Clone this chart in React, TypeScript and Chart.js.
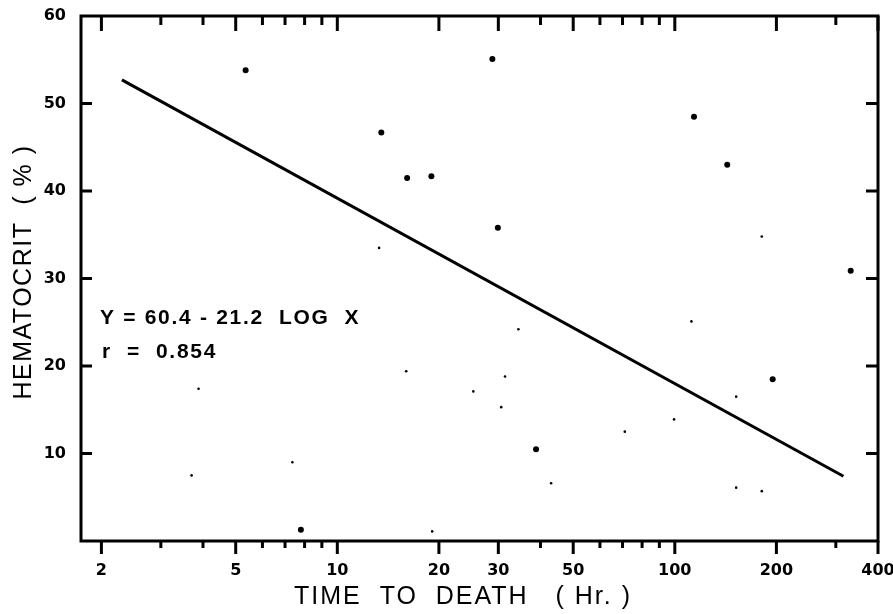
import React, { useEffect, useRef } from 'react';
import { Chart, registerables } from 'chart.js';

Chart.register(...registerables);

// ---- data ----
const xTickValues = [2, 3, 4, 5, 6, 7, 8, 9, 10, 20, 30, 40, 50, 60, 70, 80, 90, 100, 200, 300, 400];
const xTickLabels = [2, 5, 10, 20, 30, 50, 100, 200, 400];
const xLongTicks = [2, 5, 10, 20, 30, 50, 100, 200, 400];
const yTickValues = [10, 20, 30, 40, 50, 60];
const yMarkValues = [10, 20, 30, 40, 50];

// regression line Y = 60.4 - 21.2 log X (end points)
const lineX = [2.3, 316];
const lineY = [52.7, 7.4];

// clearly visible data dots
const dotX = [5.35, 13.5, 16.1, 19.0, 28.8, 114, 143, 29.9, 332, 7.8, 38.8, 195];
const dotY = [53.8, 46.7, 41.5, 41.7, 55.1, 48.5, 43.0, 35.8, 30.9, 1.3, 10.5, 18.5];

// faint specks
const speckX = [16.0, 3.88, 3.7, 7.36, 19.1, 31.4, 71.1, 34.4, 25.3, 30.6, 112, 152, 181, 43, 99.5, 152, 181, 13.3];
const speckY = [19.4, 17.4, 7.5, 9.0, 1.1, 18.8, 12.5, 24.2, 17.1, 15.3, 25.1, 6.1, 5.7, 6.6, 13.9, 16.5, 34.8, 33.5];

const equationText = 'Y = 60.4 - 21.2  LOG  X';
const rText = 'r  =  0.854';
const xTitle = 'TIME  TO  DEATH   ( Hr. )';
const yTitle = 'HEMATOCRIT  ( % )';

const FONT = '"Liberation Sans", Arial, sans-serif';
const TICK_FONT = '"DejaVu Sans", sans-serif';

const decorPlugin = {
  id: 'decor',
  afterDraw(chart: any) {
    const { ctx, chartArea } = chart;
    const { left, right, top, bottom } = chartArea;
    const xs = chart.scales.x;
    const ys = chart.scales.y;
    ctx.save();
    ctx.strokeStyle = '#000';
    ctx.lineWidth = 3;
    ctx.lineCap = 'butt';
    ctx.strokeRect(left, top, right - left, bottom - top);

    ctx.lineWidth = 3;
    ctx.beginPath();
    for (const v of xTickValues) {
      const px = xs.getPixelForValue(v);
      const long = xLongTicks.includes(v);
      ctx.moveTo(px, top);
      ctx.lineTo(px, top + (long ? 15 : 9));
      ctx.moveTo(px, bottom);
      ctx.lineTo(px, bottom + (long ? 13 : 7));
    }
    for (const v of yMarkValues) {
      const py = ys.getPixelForValue(v);
      ctx.moveTo(left, py);
      ctx.lineTo(left + 11, py);
      ctx.moveTo(right, py);
      ctx.lineTo(right - 12, py);
    }
    ctx.stroke();

    // annotation
    ctx.fillStyle = '#000';
    ctx.textBaseline = 'middle';
    ctx.textAlign = 'left';
    ctx.font = `bold 21px ${FONT}`;
    (ctx as any).letterSpacing = '1.7px';
    ctx.fillText(equationText, 100, 318);
    ctx.fillText(rText, 102, 352);

    // axis titles
    ctx.font = `25px ${FONT}`;
    (ctx as any).letterSpacing = '2px';
    ctx.textAlign = 'center';
    ctx.fillText(xTitle, 463, 597);

    (ctx as any).letterSpacing = '1.5px';
    ctx.save();
    ctx.translate(24, 272);
    ctx.rotate(-Math.PI / 2);
    ctx.fillText(yTitle, 0, 0);
    ctx.restore();

    ctx.restore();
  },
};

export default function App() {
  const ref = useRef<HTMLCanvasElement>(null);
  useEffect(() => {
    const tickFont = { family: TICK_FONT, size: 16, weight: 'bold' as const };
    const chart = new Chart(ref.current as HTMLCanvasElement, {
      type: 'scatter',
      data: {
        datasets: [
          {
            label: 'fit',
            data: lineX.map((x, i) => ({ x, y: lineY[i] })),
            showLine: true,
            borderColor: '#000',
            borderWidth: 3,
            pointRadius: 0,
          },
          {
            label: 'dots',
            data: dotX.map((x, i) => ({ x, y: dotY[i] })),
            pointRadius: 3,
            backgroundColor: '#000',
            borderWidth: 0,
          },
          {
            label: 'specks',
            data: speckX.map((x, i) => ({ x, y: speckY[i] })),
            pointRadius: 1.3,
            backgroundColor: '#000',
            borderWidth: 0,
          },
        ],
      },
      options: {
        animation: false,
        responsive: false,
        devicePixelRatio: 1,
        layout: { padding: { top: 16, right: 15, left: 0, bottom: 0 } },
        plugins: { legend: { display: false }, tooltip: { enabled: false } },
        scales: {
          x: {
            type: 'logarithmic',
            min: 1.74,
            max: 400,
            afterBuildTicks: (s: any) => {
              s.ticks = xTickValues.map((v) => ({ value: v }));
            },
            afterFit: (s: any) => {
              s.height = 73;
              s.paddingLeft = 0;
              s.paddingRight = 0;
              s.paddingTop = 0;
              s.paddingBottom = 0;
            },
            ticks: {
              autoSkip: false,
              maxRotation: 0,
              minRotation: 0,
              padding: 12,
              color: '#000',
              font: tickFont,
              callback: (v: any) => (xTickLabels.includes(Number(v)) ? String(v) : ''),
            },
            grid: { display: false },
            border: { display: false },
          },
          y: {
            type: 'linear',
            min: 0,
            max: 60,
            afterBuildTicks: (s: any) => {
              s.ticks = yTickValues.map((v) => ({ value: v }));
            },
            afterFit: (s: any) => {
              s.width = 81;
              s.paddingLeft = 0;
              s.paddingRight = 0;
              s.paddingTop = 0;
              s.paddingBottom = 0;
            },
            ticks: {
              padding: 7,
              color: '#000',
              font: tickFont,
            },
            grid: { display: false },
            border: { display: false },
          },
        },
      },
      plugins: [decorPlugin],
    });
    return () => chart.destroy();
  }, []);
  return (
    <div style={{ position: 'absolute', left: 0, top: 0, width: 893, height: 614, background: '#fff' }}>
      <canvas ref={ref} width={893} height={614} style={{ display: 'block' }} />
    </div>
  );
}
